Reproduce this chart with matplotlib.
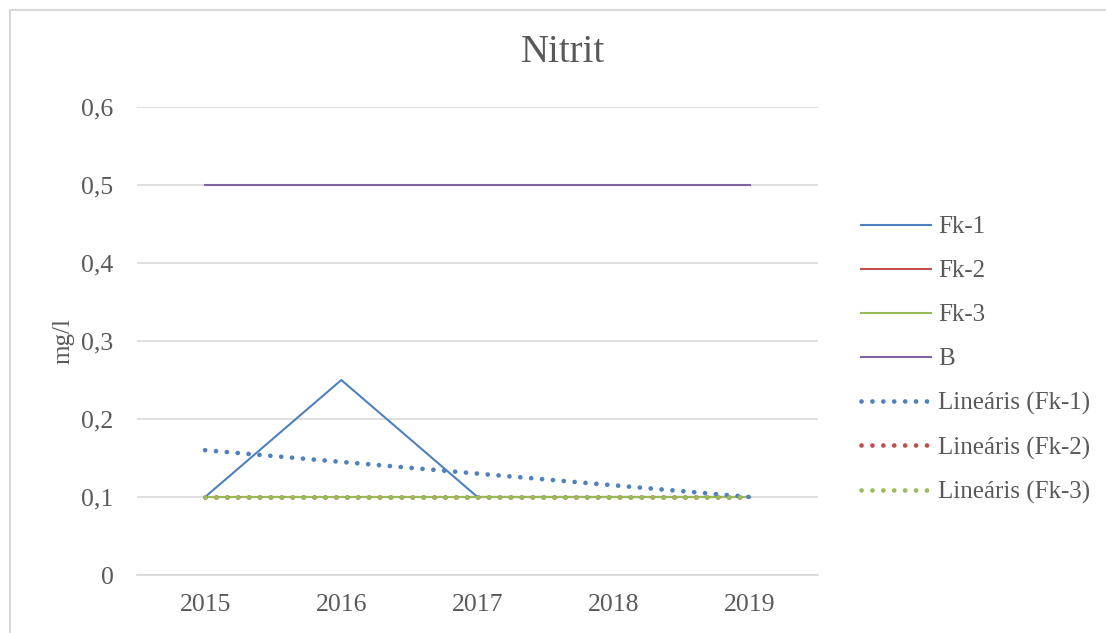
import numpy as np
from matplotlib import pyplot as plt
from matplotlib.patches import Rectangle

years = ['2015', '2016', '2017', '2018', '2019']
fk1 = [0.1, 0.25, 0.1, 0.1, 0.1]
fk2 = [0.1, 0.1, 0.1, 0.1, 0.1]
fk3 = [0.1, 0.1, 0.1, 0.1, 0.1]
b = [0.5, 0.5, 0.5, 0.5, 0.5]

series_names = ['Fk-1', 'Fk-2', 'Fk-3', 'B']
colors = ['#4F81BD', '#C0504D', '#9BBB59', '#8064A2']
yticks = [0, 0.1, 0.2, 0.3, 0.4, 0.5, 0.6]

text_col = '#595959'
grid_col = '#d9d9d9'
plt.rcParams['font.family'] = ['Liberation Serif', 'DejaVu Serif']

fig = plt.figure(figsize=(11.06, 6.33), dpi=100)
fig.patches.append(Rectangle((10 / 1106, -0.1), 1.2, (633 - 10) / 633 + 0.1,
                             transform=fig.transFigure, fill=False,
                             edgecolor=grid_col, lw=1.5))
ax = fig.add_axes([137 / 1106, 58 / 633, (818 - 137) / 1106, (575 - 107) / 633])

x = np.arange(len(years))
for vals, name, c in zip([fk1, fk2, fk3, b], series_names, colors):
  ax.plot(x, vals, color=c, lw=1.5, label=name, zorder=3)

# linear trendlines (like Excel "Lineáris")
for vals, name, c in zip([fk1, fk2, fk3], series_names[:3], colors[:3]):
  k, m = np.polyfit(x, vals, 1)
  ax.plot(x, k * x + m, color=c, lw=3.4, linestyle=(0, (0.01, 2.3)),
          dash_capstyle='round', label='Lineáris (%s)' % name, zorder=4)

ax.set_xlim(-0.5, 4.5)
ax.set_ylim(0, 0.6)
ax.set_xticks(x)
ax.set_xticklabels(years)
ax.set_yticks(yticks)
ax.set_yticklabels([('%g' % v).replace('.', ',') for v in yticks])
ax.tick_params(length=0, labelsize=18.5, labelcolor=text_col)
ax.tick_params(axis='y', pad=17)
ax.tick_params(axis='x', pad=14)
ax.grid(axis='y', color=grid_col, lw=1.2)
ax.set_axisbelow(True)
for s in ['top', 'right', 'left']:
  ax.spines[s].set_visible(False)
ax.spines['bottom'].set_color(grid_col)
ax.spines['bottom'].set_linewidth(1.2)

ax.set_ylabel('mg/l', fontsize=18, color=text_col, labelpad=5)
fig.text(563 / 1106, (633 - 53) / 633, 'Nitrit', fontsize=28, color=text_col,
         ha='center', va='center')

leg = fig.legend(loc='center left', bbox_to_anchor=(861 / 1106, (633 - 360) / 633),
                 frameon=False, fontsize=18, handlelength=2.8, handletextpad=0.3,
                 labelspacing=0.86, borderpad=0, borderaxespad=0)
for t in leg.get_texts():
  t.set_color(text_col)

plt.savefig('out.png', dpi=100)
